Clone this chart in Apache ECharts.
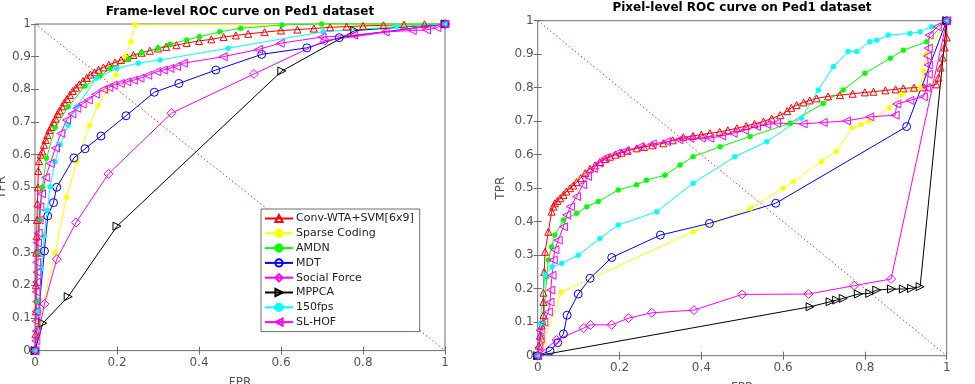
<!DOCTYPE html>
<html>
<head>
<meta charset="utf-8">
<script src="https://cdn.jsdelivr.net/npm/echarts@6/dist/echarts.min.js"></script>
<style>
  html, body { margin: 0; padding: 0; background: #fff; }
  #chart { width: 975px; height: 384px; }
</style>
</head>
<body>
<div id="chart"></div>
<script>
// legend names
const methods = ['Conv-WTA+SVM[6x9]', 'Sparse Coding', 'AMDN', 'MDT', 'Social Force', 'MPPCA', '150fps', 'SL-HOF'];
const xTicks = [0, 0.2, 0.4, 0.6, 0.8, 1];
const diagonal = [[0, 1], [1, 0]];

// frame-level ROC, [FPR, TPR]
const frameConvWta = [[0,0],[0.001,0.05],[0.002,0.12],[0.002,0.2],[0.003,0.3],[0.004,0.35],[0.005,0.4],[0.006,0.45],[0.007,0.5],[0.008,0.55],[0.01,0.58],[0.014,0.6],[0.018,0.61],[0.022,0.63],[0.026,0.645],[0.03,0.66],[0.035,0.675],[0.04,0.685],[0.045,0.7],[0.05,0.71],[0.055,0.725],[0.06,0.735],[0.066,0.748],[0.072,0.76],[0.078,0.77],[0.085,0.783],[0.092,0.795],[0.1,0.805],[0.108,0.815],[0.117,0.825],[0.126,0.835],[0.135,0.845],[0.145,0.852],[0.155,0.86],[0.167,0.867],[0.18,0.875],[0.195,0.882],[0.21,0.89],[0.225,0.897],[0.24,0.905],[0.26,0.912],[0.28,0.918],[0.3,0.925],[0.32,0.93],[0.345,0.935],[0.37,0.942],[0.4,0.948],[0.43,0.953],[0.46,0.96],[0.49,0.965],[0.52,0.97],[0.56,0.975],[0.6,0.98],[0.64,0.983],[0.68,0.986],[0.72,0.99],[0.76,0.992],[0.8,0.994],[0.85,0.996],[0.9,0.998],[0.95,0.999],[1,1]];
const frameSparse = [[0,0],[0.008,0.084],[0.049,0.3],[0.077,0.47],[0.102,0.578],[0.133,0.69],[0.153,0.75],[0.176,0.798],[0.197,0.844],[0.22,0.9],[0.234,0.946],[0.244,0.997],[1,1]];
const frameAmdn = [[0,0],[0.004,0.15],[0.008,0.3],[0.012,0.4],[0.018,0.5],[0.028,0.589],[0.049,0.683],[0.081,0.747],[0.122,0.81],[0.159,0.841],[0.183,0.864],[0.228,0.892],[0.26,0.912],[0.3,0.926],[0.329,0.938],[0.37,0.951],[0.401,0.961],[0.451,0.976],[0.502,0.987],[0.602,0.997],[0.699,1],[1,1]];
const frameMdt = [[0,0],[0.023,0.305],[0.031,0.412],[0.045,0.453],[0.053,0.5],[0.095,0.59],[0.122,0.618],[0.161,0.657],[0.222,0.719],[0.291,0.791],[0.351,0.818],[0.441,0.859],[0.553,0.907],[0.663,0.927],[0.742,0.958],[1,1]];
const frameSocial = [[0,0],[0.023,0.143],[0.053,0.28],[0.1,0.392],[0.179,0.541],[0.333,0.727],[0.534,0.847],[0.707,0.949],[1,1]];
const frameMppca = [[0,0],[0.019,0.084],[0.081,0.165],[0.2,0.381],[0.602,0.856],[0.78,0.98],[1,1]];
const frame150fps = [[0,0],[0.008,0.12],[0.015,0.25],[0.022,0.35],[0.03,0.43],[0.037,0.502],[0.049,0.578],[0.061,0.63],[0.081,0.69],[0.102,0.747],[0.15,0.834],[0.199,0.864],[0.252,0.88],[0.305,0.89],[0.471,0.926],[0.703,0.976],[0.882,0.992],[1,1]];
const frameSlHof = [[0,0],[0.002,0.03],[0.003,0.06],[0.002,0.09],[0.003,0.12],[0.004,0.15],[0.003,0.18],[0.004,0.21],[0.005,0.24],[0.004,0.27],[0.005,0.3],[0.006,0.33],[0.008,0.36],[0.01,0.4],[0.012,0.44],[0.016,0.48],[0.026,0.53],[0.037,0.573],[0.05,0.62],[0.063,0.665],[0.077,0.706],[0.09,0.725],[0.102,0.742],[0.115,0.755],[0.13,0.767],[0.148,0.785],[0.167,0.8],[0.18,0.806],[0.191,0.813],[0.208,0.818],[0.224,0.823],[0.24,0.828],[0.256,0.834],[0.275,0.843],[0.297,0.854],[0.313,0.859],[0.329,0.864],[0.345,0.87],[0.362,0.88],[0.459,0.9],[0.545,0.922],[0.598,0.941],[0.7,0.96],[0.777,0.966],[0.854,0.976],[0.92,0.98],[0.955,0.982],[0.98,0.989],[1,1]];

// pixel-level ROC, [FPR, TPR]
const pixelConvWta = [[0,0],[0.003,0.03],[0.006,0.06],[0.01,0.09],[0.014,0.121],[0.014,0.16],[0.014,0.188],[0.016,0.25],[0.018,0.31],[0.026,0.37],[0.034,0.43],[0.038,0.445],[0.042,0.455],[0.048,0.462],[0.055,0.47],[0.063,0.48],[0.07,0.49],[0.079,0.5],[0.087,0.508],[0.095,0.518],[0.105,0.53],[0.116,0.545],[0.128,0.558],[0.14,0.568],[0.152,0.578],[0.165,0.587],[0.177,0.594],[0.19,0.6],[0.205,0.606],[0.22,0.612],[0.242,0.619],[0.26,0.623],[0.28,0.628],[0.307,0.634],[0.33,0.643],[0.356,0.652],[0.38,0.656],[0.4,0.66],[0.421,0.664],[0.445,0.668],[0.465,0.673],[0.487,0.679],[0.51,0.686],[0.53,0.692],[0.552,0.699],[0.572,0.708],[0.593,0.718],[0.61,0.73],[0.62,0.74],[0.633,0.748],[0.65,0.756],[0.665,0.762],[0.682,0.768],[0.71,0.774],[0.739,0.778],[0.77,0.782],[0.8,0.786],[0.821,0.788],[0.85,0.792],[0.875,0.795],[0.894,0.798],[0.92,0.8],[0.945,0.801],[0.975,0.81],[0.98,0.83],[0.985,0.86],[0.99,0.89],[0.995,0.92],[1,0.95],[1,1]];
const pixelSparse = [[0,0],[0.014,0.04],[0.058,0.19],[0.38,0.37],[0.52,0.44],[0.6,0.5],[0.625,0.52],[0.694,0.58],[0.73,0.61],[0.77,0.68],[0.79,0.69],[0.81,0.7],[0.86,0.74],[0.89,0.78],[0.935,0.8],[0.943,0.85],[0.951,0.9],[1,1]];
const pixelAmdn = [[0,0],[0.014,0.097],[0.022,0.236],[0.026,0.286],[0.034,0.325],[0.042,0.36],[0.063,0.405],[0.095,0.425],[0.12,0.445],[0.148,0.46],[0.197,0.495],[0.242,0.51],[0.266,0.524],[0.311,0.539],[0.348,0.569],[0.38,0.594],[0.446,0.624],[0.519,0.654],[0.617,0.694],[0.698,0.753],[0.747,0.793],[0.8,0.843],[0.862,0.888],[0.894,0.912],[0.951,0.937],[1,1]];
const pixelMdt = [[0,0],[0.03,0.014],[0.049,0.039],[0.063,0.065],[0.072,0.121],[0.099,0.184],[0.128,0.231],[0.181,0.293],[0.3,0.36],[0.42,0.395],[0.582,0.455],[0.902,0.684],[1,1]];
const pixelSocial = [[0,0],[0.046,0.047],[0.112,0.082],[0.129,0.092],[0.181,0.092],[0.222,0.112],[0.279,0.128],[0.382,0.136],[0.5,0.183],[0.662,0.184],[0.774,0.209],[0.864,0.229],[1,1]];
const pixelMppca = [[0,0],[0.666,0.146],[0.715,0.161],[0.731,0.166],[0.747,0.171],[0.784,0.184],[0.812,0.186],[0.829,0.196],[0.865,0.199],[0.894,0.199],[0.914,0.201],[0.935,0.206],[1,1]];
const pixel150fps = [[0,0],[0.006,0.097],[0.018,0.241],[0.035,0.265],[0.059,0.276],[0.099,0.3],[0.152,0.35],[0.197,0.39],[0.291,0.43],[0.38,0.515],[0.482,0.594],[0.56,0.639],[0.645,0.709],[0.686,0.793],[0.723,0.863],[0.759,0.908],[0.78,0.908],[0.812,0.937],[0.829,0.942],[0.857,0.957],[0.91,0.962],[0.935,0.967],[0.963,0.982],[1,1]];
const pixelSlHof = [[0,0],[0.003,0.025],[0.006,0.05],[0.006,0.076],[0.015,0.1],[0.026,0.131],[0.03,0.16],[0.032,0.196],[0.035,0.24],[0.038,0.286],[0.042,0.316],[0.05,0.345],[0.063,0.385],[0.071,0.42],[0.08,0.445],[0.095,0.475],[0.11,0.51],[0.122,0.535],[0.136,0.559],[0.15,0.575],[0.165,0.59],[0.193,0.604],[0.215,0.612],[0.25,0.624],[0.28,0.632],[0.315,0.639],[0.345,0.645],[0.372,0.649],[0.4,0.65],[0.421,0.649],[0.45,0.656],[0.478,0.664],[0.505,0.673],[0.535,0.684],[0.56,0.69],[0.584,0.694],[0.649,0.692],[0.698,0.696],[0.755,0.701],[0.812,0.713],[0.874,0.718],[0.878,0.751],[0.91,0.762],[0.943,0.773],[0.951,0.8],[0.955,0.84],[0.955,0.868],[0.953,0.895],[0.955,0.918],[0.957,0.957],[0.977,0.982],[1,1]];

const frameData = [frameConvWta, frameSparse, frameAmdn, frameMdt, frameSocial, frameMppca, frame150fps, frameSlHof];
const pixelData = [pixelConvWta, pixelSparse, pixelAmdn, pixelMdt, pixelSocial, pixelMppca, pixel150fps, pixelSlHof];

// matlab style markers
const styles = [
    {color: '#ff0000', symbol: 'triangle', size: 7, hollow: true, rotate: 0},
    {color: '#ffff00', symbol: 'circle', size: 5, hollow: false, rotate: 0},
    {color: '#00ff00', symbol: 'circle', size: 5, hollow: false, rotate: 0},
    {color: '#0000ff', symbol: 'circle', size: 8, hollow: true, rotate: 0},
    {color: '#ff00ff', symbol: 'diamond', size: 9, hollow: true, rotate: 0},
    {color: '#000000', symbol: 'triangle', size: 8, hollow: true, rotate: -90},
    {color: '#00ffff', symbol: 'circle', size: 5, hollow: false, rotate: 0},
    {color: '#ff00ff', symbol: 'triangle', size: 8, hollow: true, rotate: 90}
];

const font = 'DejaVu Sans';
const axisGray = '#6e6e6e';
const labelGray = '#555';

const makeSeries = (dataList, gridIdx) => {
    const list = dataList.map((d, i) => {
        const s = styles[i];
        return {
            name: methods[i],
            type: 'line',
            xAxisIndex: gridIdx * 2,
            yAxisIndex: gridIdx * 2,
            data: d,
            symbol: s.symbol,
            symbolSize: s.size,
            symbolRotate: s.rotate,
            showAllSymbol: true,
            clip: false,
            lineStyle: {color: s.color, width: 1},
            itemStyle: s.hollow
                ? {color: 'rgba(255,255,255,0)', borderColor: s.color, borderWidth: 1}
                : {color: s.color, borderColor: s.color, borderWidth: 0.5},
            emphasis: {disabled: true}
        };
    });
    // random-guess diagonal
    list.push({
        name: 'diag',
        type: 'line',
        xAxisIndex: gridIdx * 2,
        yAxisIndex: gridIdx * 2,
        data: diagonal,
        symbol: 'none',
        lineStyle: {color: '#ff3030', width: 1, type: [1.5, 2.5]},
        z: 1,
        silent: true
    });
    return list;
};

const bottomX = (gridIndex) => ({
    type: 'value', gridIndex, min: 0, max: 1, interval: 0.2,
    name: 'FPR', nameLocation: 'middle', nameGap: 26,
    nameTextStyle: {color: labelGray, fontFamily: font, fontSize: 12},
    axisLine: {show: false},
    axisTick: {inside: true, length: 4, lineStyle: {color: axisGray}},
    axisLabel: {color: labelGray, fontFamily: font, fontSize: 12, margin: 6,
        formatter: (v) => xTicks.indexOf(v) >= 0 ? String(v) : String(+v.toFixed(1))},
    splitLine: {show: false}
});
const topX = (gridIndex) => ({
    type: 'value', gridIndex, min: 0, max: 1, interval: 0.2, position: 'top',
    axisLine: {show: false}, axisLabel: {show: false}, splitLine: {show: false},
    axisTick: {inside: true, length: 4, lineStyle: {color: axisGray}}
});
const leftY = (gridIndex, gap) => ({
    type: 'value', gridIndex, min: 0, max: 1, interval: 0.1,
    name: 'TPR', nameLocation: 'middle', nameGap: gap,
    nameTextStyle: {color: labelGray, fontFamily: font, fontSize: 12},
    axisLine: {show: false},
    axisTick: {inside: true, length: 4, lineStyle: {color: axisGray}},
    axisLabel: {color: labelGray, fontFamily: font, fontSize: 12, margin: 4},
    splitLine: {show: false}
});
const rightY = (gridIndex) => ({
    type: 'value', gridIndex, min: 0, max: 1, interval: 0.1, position: 'right',
    axisLine: {show: false}, axisLabel: {show: false}, splitLine: {show: false},
    axisTick: {inside: true, length: 4, lineStyle: {color: axisGray}}
});

const chart = echarts.init(document.getElementById('chart'), null, {renderer: 'canvas'});
const option = {
    animation: false,
    backgroundColor: '#fff',
    graphic: [
        {type: 'text', x: 240, y: 12, style: {text: 'Frame-level ROC curve on Ped1 dataset', fill: '#000',
            font: 'bold 12px "DejaVu Sans"', align: 'center', verticalAlign: 'middle'}},
        {type: 'text', x: 742, y: 8, style: {text: 'Pixel-level ROC curve on Ped1 dataset', fill: '#000',
            font: 'bold 12px "DejaVu Sans"', align: 'center', verticalAlign: 'middle'}}
    ],
    grid: [
        {left: 35, right: 530, top: 24, bottom: 33.4, show: true, borderColor: axisGray, borderWidth: 1,
            backgroundColor: '#fff', outerBoundsMode: 'none', containLabel: false},
        {left: 537.7, right: 28.3, top: 20.7, bottom: 28.3, show: true, borderColor: axisGray, borderWidth: 1,
            backgroundColor: '#fff', outerBoundsMode: 'none', containLabel: false}
    ],
    xAxis: [bottomX(0), topX(0), bottomX(1), topX(1)],
    yAxis: [leftY(0, 27), rightY(0), leftY(1, 31), rightY(1)],
    legend: {
        data: methods,
        orient: 'vertical',
        left: 261,
        top: 209,
        itemWidth: 28,
        itemHeight: 9,
        itemGap: 3.8,
        padding: [4, 6, 4, 3],
        backgroundColor: '#fff',
        borderColor: '#6e6e6e',
        borderWidth: 1,
        textStyle: {color: '#222', fontFamily: font, fontSize: 11, padding: [0, 0, 0, -2]},
        selectedMode: false
    },
    series: [...makeSeries(frameData, 0), ...makeSeries(pixelData, 1)]
};
chart.setOption(option);
</script>
</body>
</html>
